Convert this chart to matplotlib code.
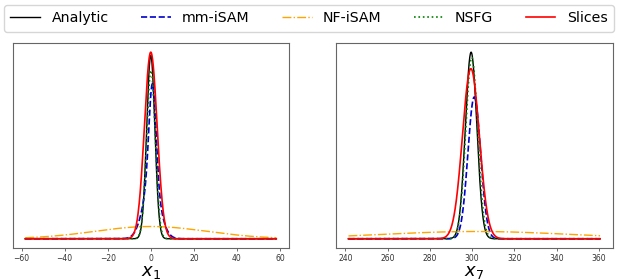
# density comparison plot for x1 and x7

import numpy as np
import matplotlib
matplotlib.use("Agg")
import matplotlib.pyplot as plt

# legend entries and line styles
labels = ["Analytic", "mm-iSAM", "NF-iSAM", "NSFG", "Slices"]
colors = ["black", "mediumblue", "orange", "green", "red"]
styles = ["-", "--", "-.", ":", "-"]
widths = [1.0, 1.2, 1.0, 1.2, 1.2]

# x1 panel: mean, std and peak height (arb. units)
x1_lo, x1_hi = -58.3, 58.3
x1_mean = [0.0, 0.8, 0.0, 0.1, 0.0]
x1_sd = [1.9, 1.6, 26.0, 2.0, 2.95]
x1_peak = [184, 100, 12.3, 169, 187.3]
x1_blue_tail = [0.3, 3.8, 56]  # broad shoulder of mm-iSAM

# x7 panel
x7_lo, x7_hi = 241.5, 360.5
x7_mean = [299.5, 301.0, 302.0, 299.8, 299.4]
x7_sd = [2.7, 3.0, 44.0, 2.8, 4.0]
x7_peak = [187.3, 142.3, 7.3, 182, 170.7]


def bump(x, mu, sd, h):
    return h * np.exp(-0.5 * ((x - mu) / sd) ** 2)


fig = plt.figure(figsize=(6.22, 2.8), dpi=100)
ax1 = fig.add_axes([0.0204, 0.114, 0.444, 0.733])
ax2 = fig.add_axes([0.540, 0.114, 0.445, 0.733])

xs1 = np.linspace(x1_lo, x1_hi, 1200)
xs7 = np.linspace(x7_lo, x7_hi, 1200)

for i in range(5):
    y1 = bump(xs1, x1_mean[i], x1_sd[i], x1_peak[i])
    if labels[i] == "mm-iSAM":
        y1 = y1 + bump(xs1, *x1_blue_tail)
    ax1.plot(xs1, y1, color=colors[i], ls=styles[i], lw=widths[i], label=labels[i])
    y7 = bump(xs7, x7_mean[i], x7_sd[i], x7_peak[i])
    ax2.plot(xs7, y7, color=colors[i], ls=styles[i], lw=widths[i])

for ax, name in [(ax1, "$x_1$"), (ax2, "$x_7$")]:
    ax.set_yticks([])
    ax.tick_params(axis="x", labelsize=5.5, length=2.5, width=0.6,
                   colors="#555555", labelcolor="#333333", pad=2)
    for s in ax.spines.values():
        s.set_color("#666666")
        s.set_linewidth(0.8)
    ax.set_xlabel(name, fontsize=13, labelpad=0)

fig.legend(loc="upper left", ncol=5, mode="expand",
           bbox_to_anchor=(4 / 622, 1 - 5 / 280, 610 / 622, 0),
           fontsize=10.2, handlelength=2.1, borderpad=0.45,
           handletextpad=0.8, borderaxespad=0)

fig.savefig("out.png", dpi=100)
